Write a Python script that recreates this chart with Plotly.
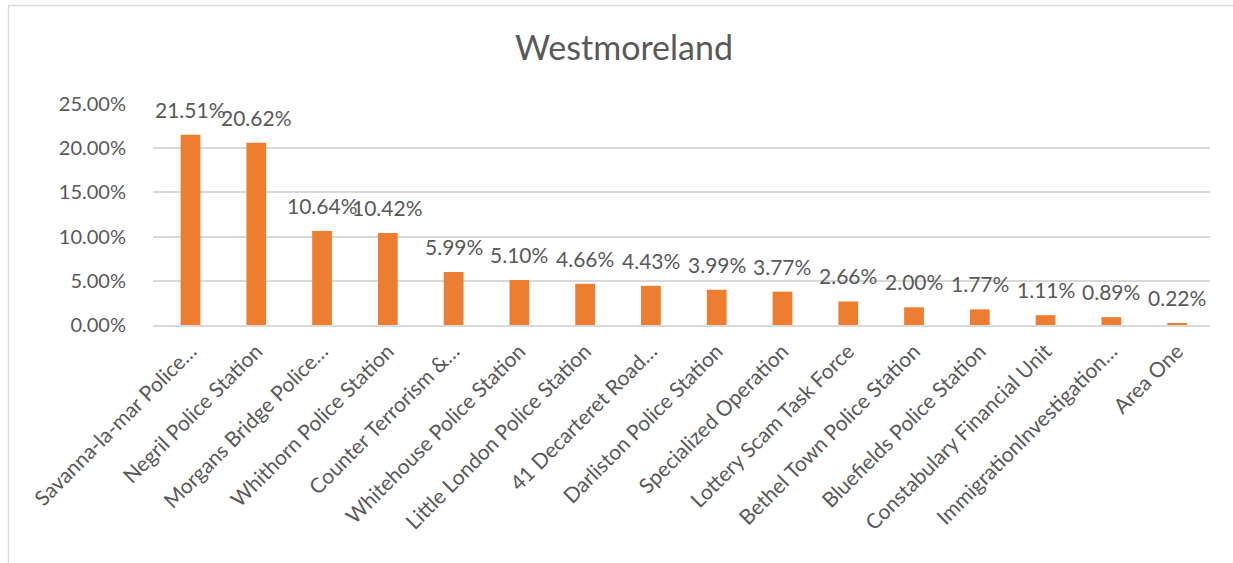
import plotly.graph_objects as go

categories = [
    "Savanna-la-mar Police…", "Negril Police Station", "Morgans Bridge Police…",
    "Whithorn Police Station", "Counter Terrorism &…", "Whitehouse Police Station",
    "Little London Police Station", "41 Decarteret Road…", "Darliston Police Station",
    "Specialized Operation", "Lottery Scam Task Force", "Bethel Town Police Station",
    "Bluefields Police Station", "Constabulary Financial Unit",
    "ImmigrationInvestigation…", "Area One",
]
values = [0.2151, 0.2062, 0.1064, 0.1042, 0.0599, 0.0510, 0.0466, 0.0443,
          0.0399, 0.0377, 0.0266, 0.0200, 0.0177, 0.0111, 0.0089, 0.0022]
y_ticks = [0, 0.05, 0.10, 0.15, 0.20, 0.25]

FONT = "Lato"
TXT = "#595959"
W, H = 1233, 563
L, R, T, B = 153, 23, 104, 238

fig = go.Figure(go.Bar(x=categories, y=values, marker_color="#ED7D31",
                       marker_line_width=0, hoverinfo="skip"))

anns = [dict(x=c, y=v, text=f"{v*100:.2f}%", showarrow=False, yanchor="bottom",
             yshift=11, font=dict(family=FONT, size=21, color=TXT))
        for c, v in zip(categories, values)]

pw, ph = W - L - R, H - T - B
def px_x(p): return (p - L) / pw
def px_y(p): return (H - B - p) / ph

shapes = [
    dict(type="line", xref="paper", yref="paper", x0=px_x(8.5), x1=px_x(8.5),
         y0=px_y(5.5), y1=px_y(563), line=dict(color="#D9D9D9", width=1.5)),
    dict(type="line", xref="paper", yref="paper", x0=px_x(8), x1=px_x(1233),
         y0=px_y(5.5), y1=px_y(5.5), line=dict(color="#D9D9D9", width=1.5)),
]

fig.update_layout(
    width=W, height=H, autosize=False,
    margin=dict(l=L, r=R, t=T, b=B, pad=0),
    paper_bgcolor="white", plot_bgcolor="white",
    title=dict(text="Westmoreland", x=624 / W, xref="container", xanchor="center",
               y=1 - 48 / H, yref="container", yanchor="middle",
               font=dict(family=FONT, size=34, color=TXT)),
    bargap=0.7,
    showlegend=False,
    annotations=anns,
    shapes=shapes,
    font=dict(family=FONT, color=TXT),
)
fig.update_xaxes(tickangle=-45, tickfont=dict(family=FONT, size=21, color=TXT),
                 showgrid=False, showline=True, linecolor="#D9D9D9", linewidth=1.5,
                 ticks="outside", ticklen=4, tickcolor="rgba(0,0,0,0)")
fig.update_yaxes(range=[0, 0.25], tickvals=y_ticks, tickformat=".2%",
                 tickfont=dict(family=FONT, size=20, color=TXT),
                 showgrid=True, gridcolor="#D9D9D9", gridwidth=1.5,
                 zeroline=False, showline=False, ticks="outside", ticklen=22,
                 tickcolor="rgba(0,0,0,0)")

fig.write_html("out.html", config={"displayModeBar": False},
               post_script="document.body.style.margin='0';")
